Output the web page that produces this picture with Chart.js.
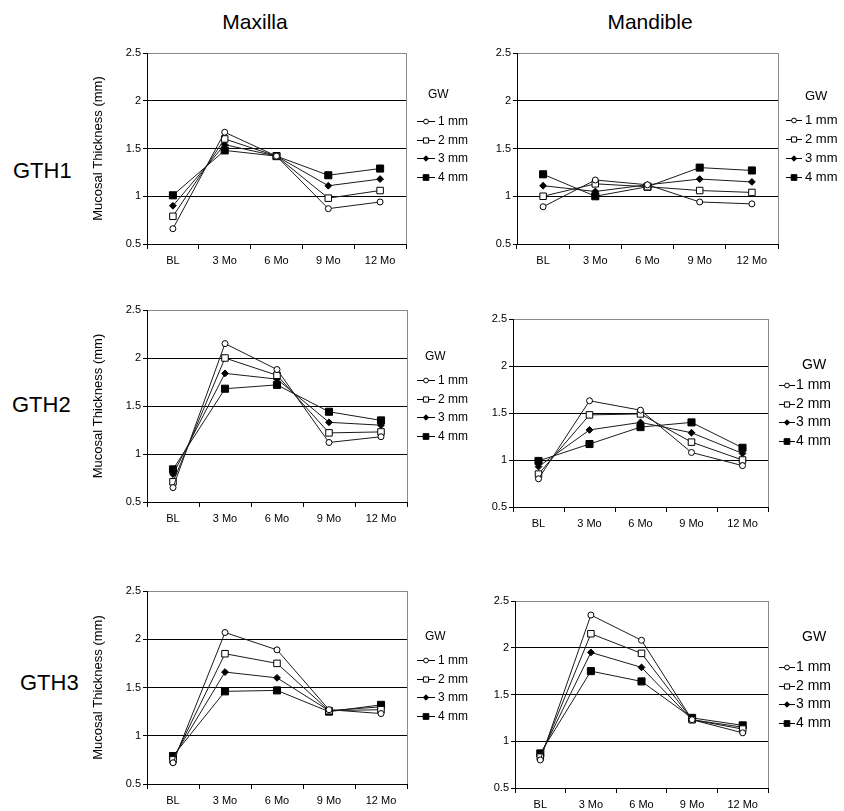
<!DOCTYPE html>
<html>
<head>
<meta charset="utf-8">
<script src="https://cdn.jsdelivr.net/npm/chart.js@4/dist/chart.umd.min.js"></script>
<style>
  body { margin: 0; background: #fff; }
  #page { position: relative; width: 844px; height: 811px; overflow: hidden; font-family: "Liberation Sans", Arial, sans-serif; color: #000; }
  #page canvas { position: absolute; }
  .head { position: absolute; font-size: 21px; transform: translate(-50%, -50%); white-space: nowrap; }
  .row { position: absolute; font-size: 22px; transform: translateY(-50%); white-space: nowrap; }
</style>
</head>
<body>
<div id="page">
  <div class="head" style="left:255px; top:22px">Maxilla</div>
  <div class="head" style="left:650px; top:22px">Mandible</div>
  <div class="row" style="left:13px; top:171px">GTH1</div>
  <div class="row" style="left:12px; top:405px">GTH2</div>
  <div class="row" style="left:20px; top:683px">GTH3</div>
</div>
<script>
(function () {
    'use strict';

    // time points and gingival width groups
    var timepoints = ['BL', '3 Mo', '6 Mo', '9 Mo', '12 Mo'];
    var gwGroups = ['1 mm', '2 mm', '3 mm', '4 mm'];
    var yTickLabels = ['0.5', '1', '1.5', '2', '2.5'];
    var yMin = 0.5, yMax = 2.5, yStep = 0.5;

    // mucosal thickness (mm), one row per GW group: 1, 2, 3, 4 mm
    var maxillaGth1 = [
        [0.66, 1.67, 1.42, 0.87, 0.94],
        [0.79, 1.60, 1.42, 0.98, 1.06],
        [0.90, 1.54, 1.42, 1.11, 1.18],
        [1.01, 1.48, 1.42, 1.22, 1.29]
    ];
    var mandibleGth1 = [
        [0.89, 1.17, 1.12, 0.94, 0.92],
        [1.00, 1.13, 1.10, 1.06, 1.04],
        [1.11, 1.05, 1.12, 1.18, 1.15],
        [1.23, 1.00, 1.10, 1.30, 1.27]
    ];
    var maxillaGth2 = [
        [0.65, 2.15, 1.88, 1.12, 1.18],
        [0.71, 2.00, 1.82, 1.22, 1.23],
        [0.79, 1.84, 1.78, 1.33, 1.30],
        [0.84, 1.68, 1.72, 1.44, 1.35]
    ];
    var mandibleGth2 = [
        [0.80, 1.63, 1.53, 1.08, 0.94],
        [0.85, 1.48, 1.49, 1.19, 1.00],
        [0.93, 1.32, 1.40, 1.29, 1.07],
        [0.99, 1.17, 1.35, 1.40, 1.13]
    ];
    var maxillaGth3 = [
        [0.72, 2.07, 1.89, 1.27, 1.23],
        [0.75, 1.85, 1.75, 1.26, 1.27],
        [0.77, 1.66, 1.60, 1.26, 1.30],
        [0.79, 1.46, 1.47, 1.25, 1.32]
    ];
    var mandibleGth3 = [
        [0.80, 2.35, 2.08, 1.23, 1.09],
        [0.83, 2.15, 1.94, 1.23, 1.13],
        [0.85, 1.95, 1.79, 1.23, 1.15],
        [0.87, 1.75, 1.64, 1.25, 1.17]
    ];

    var markerStyles = [
        { pointStyle: 'circle', radius: 3, fill: '#fff' },
        { pointStyle: 'rect', radius: 4.6, fill: '#fff' },
        { pointStyle: 'rectRot', radius: 3.4, fill: '#000' },
        { pointStyle: 'rect', radius: 5, fill: '#000' }
    ];

    var FONT = '"Liberation Sans", Arial, sans-serif';

    // canvas box and plot box in page pixels
    var panels = [
        { data: maxillaGth1, box: [80, 35, 400, 245], plot: [147, 406, 53, 244], yTitle: true,
          legend: { gwX: 428, gwY: 95, x0: 417, x1: 435, textX: 438, rowY: 121, gap: 18.7, size: 12 } },
        { data: mandibleGth1, box: [478, 35, 366, 245], plot: [517, 778, 53, 244], yTitle: false,
          legend: { gwX: 805, gwY: 96, x0: 786, x1: 802, textX: 805, rowY: 120, gap: 19, size: 13 } },
        { data: maxillaGth2, box: [80, 290, 400, 250], plot: [147, 407, 310, 502], yTitle: true,
          legend: { gwX: 425, gwY: 357, x0: 417, x1: 435, textX: 438, rowY: 380, gap: 18.7, size: 12 } },
        { data: mandibleGth2, box: [478, 290, 366, 250], plot: [513, 768, 319, 507], yTitle: false,
          legend: { gwX: 802, gwY: 365, x0: 779, x1: 795, textX: 796, rowY: 385, gap: 18.7, size: 14 } },
        { data: maxillaGth3, box: [80, 575, 400, 236], plot: [147, 407, 591, 784], yTitle: true,
          legend: { gwX: 425, gwY: 637, x0: 417, x1: 435, textX: 438, rowY: 660, gap: 18.7, size: 12 } },
        { data: mandibleGth3, box: [478, 575, 366, 236], plot: [515, 768, 601, 788], yTitle: false,
          legend: { gwX: 802, gwY: 637, x0: 779, x1: 795, textX: 796, rowY: 667, gap: 18.7, size: 14 } }
    ];

    // GW legend drawn beside each plot, reusing the dataset marker styles
    var gwLegend = {
        id: 'gwLegend',
        afterDraw: function (chart, args, opts) {
            var ctx = chart.ctx;
            ctx.save();
            ctx.fillStyle = '#000';
            ctx.font = opts.size + 'px ' + FONT;
            ctx.textBaseline = 'middle';
            ctx.textAlign = 'left';
            ctx.fillText('GW', opts.gwX, opts.gwY);
            chart.data.datasets.forEach(function (ds, i) {
                var y = Math.round(opts.rowY + i * opts.gap) + 0.5;
                ctx.strokeStyle = '#000';
                ctx.lineWidth = 1;
                ctx.beginPath();
                ctx.moveTo(opts.x0, y);
                ctx.lineTo(opts.x1, y);
                ctx.stroke();
                ctx.fillStyle = ds.pointBackgroundColor;
                Chart.helpers.drawPoint(ctx, {
                    pointStyle: ds.pointStyle,
                    radius: ds.pointRadius * 0.8,
                    rotation: 0,
                    borderWidth: 1
                }, (opts.x0 + opts.x1) / 2, y);
                ctx.fillStyle = '#000';
                ctx.fillText(ds.label, opts.textX, y);
            });
            ctx.restore();
        }
    };

    var page = document.getElementById('page');

    panels.forEach(function (p) {
        var cx = p.box[0], cy = p.box[1], cw = p.box[2], ch = p.box[3];
        var canvas = document.createElement('canvas');
        canvas.width = cw;
        canvas.height = ch;
        canvas.style.left = cx + 'px';
        canvas.style.top = cy + 'px';
        page.appendChild(canvas);

        var yWidth = p.plot[0] - cx;
        var xHeight = cy + ch - p.plot[3];
        var lg = p.legend;

        new Chart(canvas, {
            type: 'line',
            data: {
                labels: timepoints,
                datasets: p.data.map(function (values, i) {
                    var m = markerStyles[i];
                    return {
                        label: gwGroups[i],
                        data: values,
                        borderColor: '#1a1a1a',
                        borderWidth: 1,
                        tension: 0,
                        pointStyle: m.pointStyle,
                        pointRadius: m.radius,
                        pointBackgroundColor: m.fill,
                        pointBorderColor: '#000',
                        pointBorderWidth: 1
                    };
                })
            },
            options: {
                responsive: false,
                animation: false,
                devicePixelRatio: 1,
                layout: { padding: { left: 0, top: p.plot[2] - cy, right: cx + cw - p.plot[1], bottom: 0 } },
                plugins: {
                    legend: { display: false },
                    tooltip: { enabled: false },
                    gwLegend: {
                        gwX: lg.gwX - cx, gwY: lg.gwY - cy, x0: lg.x0 - cx, x1: lg.x1 - cx,
                        textX: lg.textX - cx, rowY: lg.rowY - cy, gap: lg.gap, size: lg.size
                    }
                },
                scales: {
                    x: {
                        offset: true,
                        grid: {
                            offset: true,
                            color: function (c) { return c.type === 'scale' ? '#8a8a8a' : 'rgba(0,0,0,0)'; },
                            tickColor: '#000',
                            tickLength: 5
                        },
                        border: { color: '#000' },
                        ticks: { color: '#000', font: { family: FONT, size: 11 }, padding: 5, maxRotation: 0, autoSkip: false },
                        afterFit: function (s) { s.height = xHeight; }
                    },
                    y: {
                        min: yMin,
                        max: yMax,
                        grid: {
                            color: function (c) { return c.tick && c.tick.value === yMax ? '#8a8a8a' : '#000'; },
                            tickColor: '#000',
                            tickLength: 4
                        },
                        border: { color: '#000' },
                        ticks: {
                            stepSize: yStep,
                            color: '#000',
                            padding: 2,
                            font: { family: FONT, size: 11 },
                            callback: function (v, i) { return yTickLabels[i]; }
                        },
                        title: {
                            display: p.yTitle,
                            text: 'Mucosal Thickness (mm)',
                            color: '#000',
                            font: { family: FONT, size: 13 },
                            padding: { top: 11, bottom: 0 }
                        },
                        afterFit: function (s) { s.width = yWidth; }
                    }
                }
            },
            plugins: [gwLegend]
        });
    });
}());
</script>
</body>
</html>
